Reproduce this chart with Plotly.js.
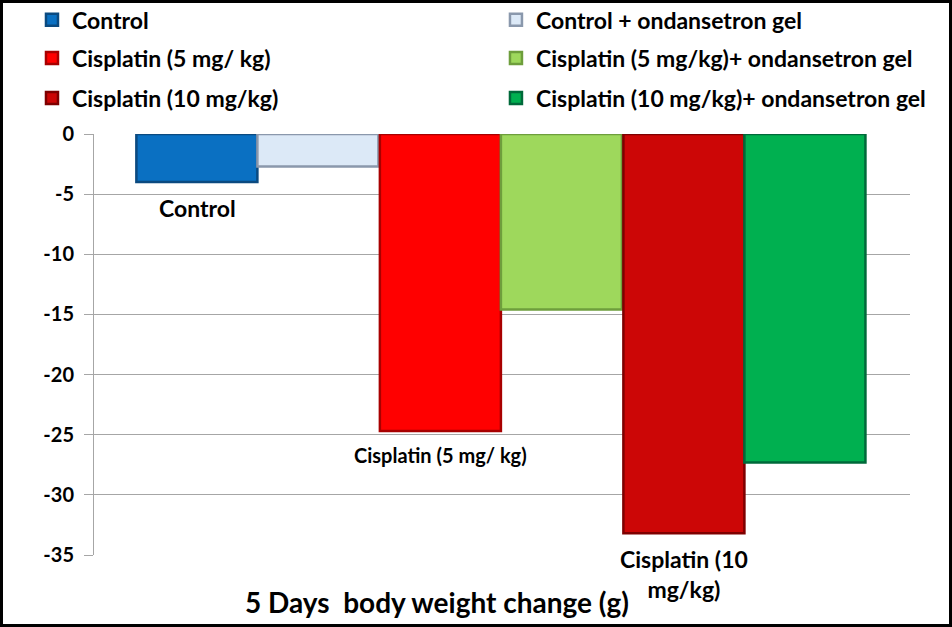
<!DOCTYPE html>
<html><head><meta charset="utf-8">
<script src="https://cdn.plot.ly/plotly-3.0.1.min.js"></script>
<style>
html,body{margin:0;padding:0;background:#fff;}
#wrap{width:952px;height:627px;box-sizing:border-box;border:3px solid #000;}
#chart{width:946px;height:621px;}
</style></head>
<body><div id="wrap"><div id="chart"></div></div>
<script>
// Data
const categories = ["Control", "Cisplatin (5 mg/ kg)", "Cisplatin (10 mg/kg)"];
const seriesNames = ["Control", "Control + ondansetron gel", "Cisplatin (5 mg/ kg)",
  "Cisplatin (5 mg/kg)+ ondansetron gel", "Cisplatin (10 mg/kg)", "Cisplatin (10 mg/kg)+ ondansetron gel"];
const seriesCategory = [0, 0, 1, 1, 2, 2];
const seriesValues = [-4.0, -2.7, -24.7, -14.6, -33.2, -27.3];
const barLabels = ["Control", "", "Cisplatin (5 mg/ kg)", "", "Cisplatin (10<br>mg/kg)", ""];
const yTicks = [0, -5, -10, -15, -20, -25, -30, -35];

const fills = ["#0A70C2", "#DCE9F7", "#FF0000", "#9ED85C", "#CC0606", "#00B050"];
const edges = ["#0B4A80", "#8A98AC", "#A80000", "#6E9E3C", "#7E0000", "#00693A"];
const labelSizes = [23, 0, 20, 0, 23, 0];
// legend placement (column, row) per series
const legCol = [0, 1, 0, 1, 0, 1];
const legRow = [0, 0, 1, 1, 2, 2];
const legColX = [-0.076, 0.4926];
const legRowY = [1.271, 1.1805, 1.0855];

const FONT = "Lato, 'Open Sans', sans-serif";
const legendKey = i => (i === 0 ? "legend" : "legend" + (i + 1));

const traces = seriesNames.map((n, i) => ({
  type: "bar",
  name: n,
  x: [categories[seriesCategory[i]]],
  y: [seriesValues[i]],
  offsetgroup: (i % 2 === 0) ? "a" : "b",
  legend: legendKey(i),
  marker: {color: fills[i], line: {color: edges[i], width: 2.5}},
  hoverinfo: "skip"
}));

const annotations = [];
seriesNames.forEach((n, i) => {
  if (!barLabels[i]) return;
  annotations.push({
    x: categories[seriesCategory[i]], y: seriesValues[i], xref: "x", yref: "y",
    xshift: -60, yshift: -10, yanchor: "top", xanchor: "center",
    text: barLabels[i], showarrow: false,
    font: {family: FONT, size: labelSizes[i], color: "#000", weight: "bold"}
  });
});
annotations.push({
  x: 0.42, y: -0.111, xref: "paper", yref: "paper", xanchor: "center", yanchor: "middle",
  text: "5 Days\u00a0 body weight change (g)", showarrow: false,
  font: {family: FONT, size: 28, color: "#000", weight: "bold"}
});

const layout = {
  width: 946, height: 621,
  margin: {l: 91, r: 39, t: 131, b: 69, autoexpand: false},
  paper_bgcolor: "#fff", plot_bgcolor: "#fff",
  barmode: "group", bargap: 0.006, bargroupgap: 0,
  showlegend: true,
  xaxis: {type: "category", range: [-0.671, 2.68], showticklabels: false, ticks: "",
    showgrid: false, zeroline: false, showline: false, fixedrange: true},
  yaxis: {range: [-35, 0], tickvals: yTicks, ticktext: yTicks.map(String),
    showgrid: true, gridcolor: "#A6A6A6", gridwidth: 1, zeroline: false,
    showline: true, linecolor: "#A6A6A6", linewidth: 1,
    ticks: "outside", ticklen: 9, tickcolor: "#A6A6A6",
    tickfont: {family: FONT, size: 20, color: "#000", weight: "bold"}, ticklabelstandoff: 6},
  annotations: annotations
};
seriesNames.forEach((n, i) => {
  layout[legendKey(i)] = {
    orientation: "h", xanchor: "left", yanchor: "middle",
    x: legColX[legCol[i]], y: legRowY[legRow[i]],
    bgcolor: "rgba(0,0,0,0)",
    font: {family: FONT, size: 23, color: "#000", weight: "bold"}
  };
});

Plotly.newPlot("chart", traces, layout, {displayModeBar: false, staticPlot: true});
</script></body></html>
